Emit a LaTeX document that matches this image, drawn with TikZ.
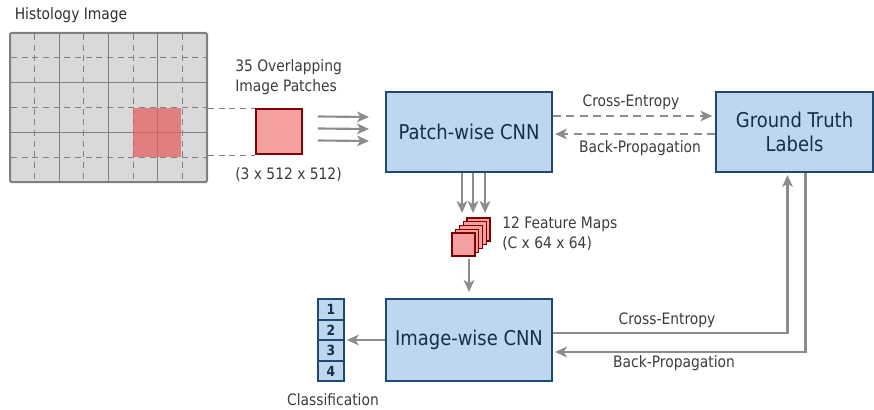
\documentclass[tikz,border=0pt]{standalone}
\usepackage{fontspec}
\setmainfont{DejaVu Sans}[FakeStretch=0.88]
\usepackage{xcolor}
\usepackage{tikz}
\usetikzlibrary{arrows.meta,positioning}

\definecolor{boxfill}{RGB}{189,215,238}
\definecolor{boxline}{RGB}{31,73,115}
\definecolor{boxtext}{RGB}{23,45,75}
\definecolor{txtgrey}{RGB}{60,60,60}
\definecolor{arrgrey}{RGB}{140,140,140}
\definecolor{gridgrey}{RGB}{128,128,128}
\definecolor{histfill}{RGB}{217,217,217}
\definecolor{patchfill}{RGB}{245,160,160}
\definecolor{patchline}{RGB}{128,0,0}
\definecolor{hilite}{RGB}{228,90,90}

\begin{document}
\begin{tikzpicture}[x=0.75pt,y=0.75pt,yscale=-1,xscale=1,
  cnn/.style={draw=boxline,fill=boxfill,line width=1.5pt,minimum width=124.5pt,minimum height=60pt,
    text=boxtext,font=\fontsize{15.3}{17.5}\selectfont,align=center},
  clsbox/.style={draw=boxline,fill=boxfill,line width=1.2pt,minimum width=19.5pt,minimum height=15.4pt,
    inner sep=0pt,text=boxtext,font=\bfseries\fontsize{10.5}{12}\selectfont},
  patchbox/.style={draw=patchline,fill=patchfill,line width=1.5pt,inner sep=0pt},
  fmapbox/.style={draw=patchline,fill=patchfill,line width=0.9pt,inner sep=0pt,minimum size=17.25pt},
  lbl/.style={text=txtgrey,inner sep=0pt,align=left,font=\fontsize{11.8}{15}\selectfont},
  flow/.style={draw=arrgrey,line width=1.6pt,-{Stealth[length=9pt,width=8pt,inset=2.5pt]}},
  dflow/.style={flow,dash pattern=on 6pt off 4pt},
  guide/.style={draw=gridgrey,line width=0.7pt,dash pattern=on 4.5pt off 3.5pt}]
\useasboundingbox (0,0) rectangle (874,410);
%Shape: Histology image with grid
\node [draw=gridgrey,fill=histfill,line width=1.5pt,rounded corners=1pt,inner sep=0pt,
  minimum width=147.75pt,minimum height=111.75pt] (histo) at (108.5,107.5) {};
\foreach \k in {1,...,7}{
  \ifodd\k \draw[guide,line width=0.8pt] ({10+24.625*\k},34) -- ({10+24.625*\k},181);
  \else \draw[gridgrey,line width=0.8pt] ({10+24.625*\k},34) -- ({10+24.625*\k},181); \fi}
\foreach \k in {1,...,5}{
  \ifodd\k \draw[guide,line width=0.8pt] (11,{33+24.83*\k}) -- (206,{33+24.83*\k});
  \else \draw[gridgrey,line width=0.8pt] (11,{33+24.83*\k}) -- (206,{33+24.83*\k}); \fi}
%Shape: selected patch
\fill[hilite,opacity=0.7] (133,108) rectangle (181,157);
% Text Node
\node [lbl,text=txtgrey!80!black] (histtitle) at (71,15) {Histology Image};
%Shape: image patch
\node [patchbox,minimum width=34.5pt,minimum height=33.75pt] (pimg) at (279,131.5) {};
\draw[guide] (histo.east |- pimg.north west) -- (pimg.north west);
\draw[guide] (histo.east |- pimg.south west) -- (pimg.south west);
% Text Node
\node [lbl,anchor=west] (patchtxt) at (235,77) {35 Overlapping\\Image Patches};
% Text Node
\node [lbl,anchor=west] (patchdim) at (235,175) {(3 x 512 x 512)};
%Shape: CNN boxes
\node [cnn] (patch) at (469,132) {Patch-wise CNN};
\node [cnn,minimum width=117.75pt] (truth) at (794.5,132) {Ground Truth\\Labels};
\node [cnn,minimum height=61.5pt] (image) at (469,340) {Image-wise CNN};
%Straight Lines: patches into patch-wise CNN
\foreach \d in {-11.25,-2.25,6.75}
  \draw[flow] ([xshift=11.25pt,yshift=\d pt]pimg.east) -- ([xshift=-12pt,yshift=\d pt]patch.west);
%Straight Lines: patch-wise CNN <-> labels
\draw[dflow,shorten >=2pt] ([yshift=-12pt]patch.east) -- ([yshift=-12pt]truth.west);
\draw[dflow,shorten >=1.5pt] ([yshift=1.5pt]truth.west) -- ([yshift=1.5pt]patch.east);
% Text Node
\node [lbl] (ce1) at (631,102) {Cross-Entropy};
% Text Node
\node [lbl] (bp1) at (640,148) {Back-Propagation};
%Straight Lines: down to feature maps
\foreach \d in {-5.25,3,12}
  \draw[flow] ([xshift=\d pt]patch.south) -- ([xshift=\d pt,yshift=30pt]patch.south);
%Shape: feature map stack
\foreach \i in {4,...,0}
  \node [fmapbox] (fm\i) at ({463.5+3.75*\i},{244.5-3.75*\i}) {};
% Text Node
\node [lbl,anchor=west] (fmtxt) at (502,234) {12 Feature Maps\\(C x 64 x 64)};
\draw[flow,shorten <=1.5pt,shorten >=4.5pt] (image.north |- fm0.south) -- (image.north);
%Shape: class vector
\foreach \c in {1,...,4}
  \node [clsbox] (cls\c) at (331,{309.5+20.5*(\c-1)}) {\c};
% Text Node
\node [lbl] (clstxt) at (333,400) {Classification};
\draw[flow,shorten >=1.5pt] (image.west) -- (cls2.east |- image.west);
%Straight Lines: image-wise CNN <-> labels
\draw[flow,shorten >=1.5pt] ([yshift=-5.25pt]image.east) -| ([xshift=-5.25pt]truth.south);
\draw[flow,shorten >=1.5pt] ([xshift=8.25pt]truth.south) |- ([yshift=9pt]image.east);
% Text Node
\node [lbl] (ce2) at (667,320) {Cross-Entropy};
% Text Node
\node [lbl] (bp2) at (674,363) {Back-Propagation};
\end{tikzpicture}
\end{document}
